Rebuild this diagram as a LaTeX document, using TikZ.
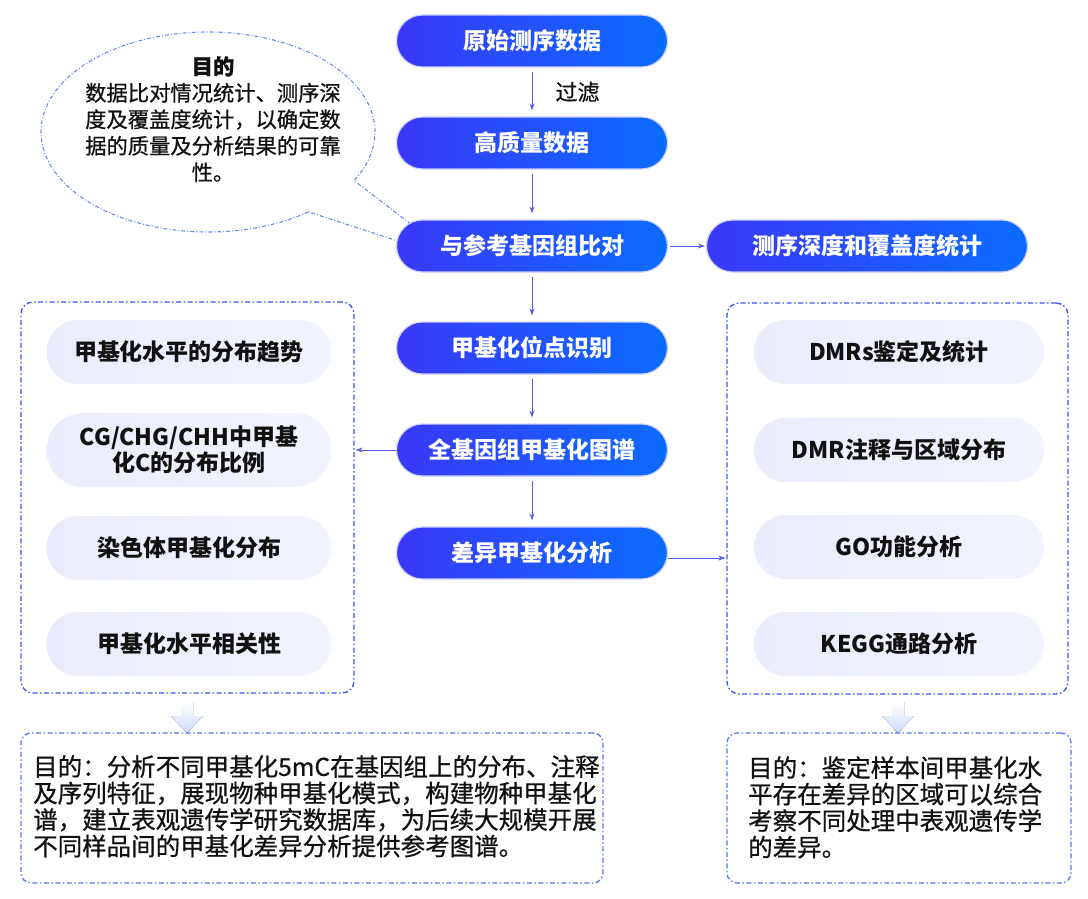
\documentclass[tikz,border=0pt]{standalone}
\usepackage{fontspec}
\setmainfont{Noto Sans CJK SC}
\newfontfamily\notefont{Noto Sans CJK SC}[FakeBold=0.7]
\usetikzlibrary{arrows.meta,calc}
\definecolor{pillL}{RGB}{58,56,248}
\definecolor{pillR}{RGB}{11,108,255}
\definecolor{lightL}{RGB}{234,236,251}
\definecolor{lightR}{RGB}{241,244,254}
\definecolor{arrowc}{RGB}{90,90,232}
\definecolor{dashc}{RGB}{62,82,240}
\definecolor{dashlight}{RGB}{90,115,242}
\definecolor{calloutc}{RGB}{110,140,240}
\definecolor{glow}{RGB}{205,208,255}
\definecolor{txt}{RGB}{17,17,17}
\definecolor{blockc}{RGB}{205,218,250}
\tikzset{
  mainpill/.style={rounded corners=26pt, minimum width=271pt, minimum height=52pt,
    left color=pillL, right color=pillR, draw=glow, line width=1.2pt, text=white,
    font=\bfseries\fontsize{23}{26}\selectfont, inner sep=0pt},
  lightpill/.style={rounded corners=32pt, minimum height=64pt,
    left color=lightL, right color=lightR, draw=none, text=txt,
    font=\bfseries\fontsize{23}{26}\selectfont, align=center, inner sep=0pt},
  groupbox/.style={draw=dashc, line width=1.3pt, rounded corners=12pt,
    dash pattern=on 5pt off 2.5pt on 1.5pt off 2.5pt, inner sep=0pt},
  notebox/.style={draw=dashlight, line width=1.3pt, rounded corners=10pt,
    dash pattern=on 5pt off 2.5pt on 1.5pt off 2.5pt, inner sep=0pt},
  flow/.style={draw=arrowc, line width=1pt, -{Stealth[length=7pt,width=5pt]}},
  notetext/.style={anchor=north west, align=left, text=txt, inner sep=0pt,
    font=\notefont\fontsize{24.5}{26.5}\selectfont},
  blockarrow/.style={top color=white, bottom color=blockc, draw=none},
}
\begin{document}
\begin{tikzpicture}[x=1pt,y=-1pt]
\useasboundingbox (0,0) rectangle (1088,899);
\fill[white] (0,0) rectangle (1088,899);

% callout bubble
\draw[draw=calloutc, line width=1.1pt, dash pattern=on 4pt off 2pt on 1pt off 2pt, fill=white]
  (208,132) ++(53:167 and 100)
  arc[start angle=53, end angle=389, x radius=167, y radius=100]
  -- (459,261) -- cycle;
\node[align=center, text=txt, inner sep=0pt, anchor=north,
  font=\notefont\fontsize{21.3}{26.5}\selectfont] (bubble) at (213,56)
  {\textbf{目的}\\数据比对情况统计、测序深\\度及覆盖度统计，以确定数\\据的质量及分析结果的可靠\\性。};

% main flow
\node[mainpill] (p1) at (532,41) {原始测序数据};
\node[mainpill] (p2) at (532,143) {高质量数据};
\node[mainpill] (p3) at (532,246) {与参考基因组比对};
\node[mainpill, minimum width=321pt] (p4) at (867,246) {测序深度和覆盖度统计};
\node[mainpill] (p5) at (532,348) {甲基化位点识别};
\node[mainpill] (p6) at (532,450) {全基因组甲基化图谱};
\node[mainpill] (p7) at (532,553) {差异甲基化分析};

\draw[flow, shorten <=4pt, shorten >=6pt] (p1.south) -- (p2.north)
  node[midway, right=23pt, text=txt, inner sep=0pt, font=\notefont\fontsize{22}{24}\selectfont] (filt) {过滤};
\draw[flow, shorten <=4pt, shorten >=6pt] (p2.south) -- (p3.north);
\draw[flow, shorten <=4pt, shorten >=6pt] (p3.south) -- (p5.north);
\draw[flow, shorten <=4pt, shorten >=6pt] (p5.south) -- (p6.north);
\draw[flow, shorten <=4pt, shorten >=6pt] (p6.south) -- (p7.north);
\draw[flow, shorten <=2pt, shorten >=1pt] (p3.east) -- (p4.west);

% left group
\node[groupbox, minimum width=333pt, minimum height=391pt] (lbox) at (187.5,497.5) {};
\node[lightpill, minimum width=285pt] (l1) at (189,352) {甲基化水平的分布趋势};
\node[lightpill, minimum width=285pt, minimum height=74pt, rounded corners=37pt] (l2) at (189,450) {CG/CHG/CHH中甲基\\化C的分布比例};
\node[lightpill, minimum width=285pt] (l3) at (189,548) {染色体甲基化分布};
\node[lightpill, minimum width=285pt] (l4) at (189,644) {甲基化水平相关性};

% right group
\node[groupbox, minimum width=341pt, minimum height=391pt] (rbox) at (897.5,498.5) {};
\node[lightpill, minimum width=290pt] (r1) at (899,352) {DMRs鉴定及统计};
\node[lightpill, minimum width=290pt] (r2) at (899,450) {DMR注释与区域分布};
\node[lightpill, minimum width=290pt] (r3) at (899,547) {GO功能分析};
\node[lightpill, minimum width=290pt] (r4) at (899,644) {KEGG通路分析};

\draw[flow, shorten >=1pt] (p6.west) -- (p6.west -| lbox.east);
\coordinate (p7out) at ($(p7.east)+(0,5)$);
\draw[flow, shorten >=1pt] (p7out) -- (p7out -| rbox.west);

% block arrows
\fill[blockarrow] (181,702) -- (193,702) -- (193,716) -- (203,716) -- (187,733) -- (171,716) -- (181,716) -- cycle;
\fill[blockarrow] (892,702) -- (904,702) -- (904,716) -- (914,716) -- (898,733) -- (882,716) -- (892,716) -- cycle;

% note boxes
\node[notebox, minimum width=582pt, minimum height=150pt] (lnote) at (312,808) {};
\node[notebox, minimum width=344pt, minimum height=150pt] (rnote) at (899,808) {};
\node[notetext] (lnotetext) at (33,755)
  {目的：分析不同甲基化5mC在基因组上的分布、注释\\及序列特征，展现物种甲基化模式，构建物种甲基化\\谱，建立表观遗传学研究数据库，为后续大规模开展\\不同样品间的甲基化差异分析提供参考图谱。};
\node[notetext] (rnotetext) at (748,756)
  {目的：鉴定样本间甲基化水\\平存在差异的区域可以综合\\考察不同处理中表观遗传学\\的差异。};
\end{tikzpicture}
\end{document}
